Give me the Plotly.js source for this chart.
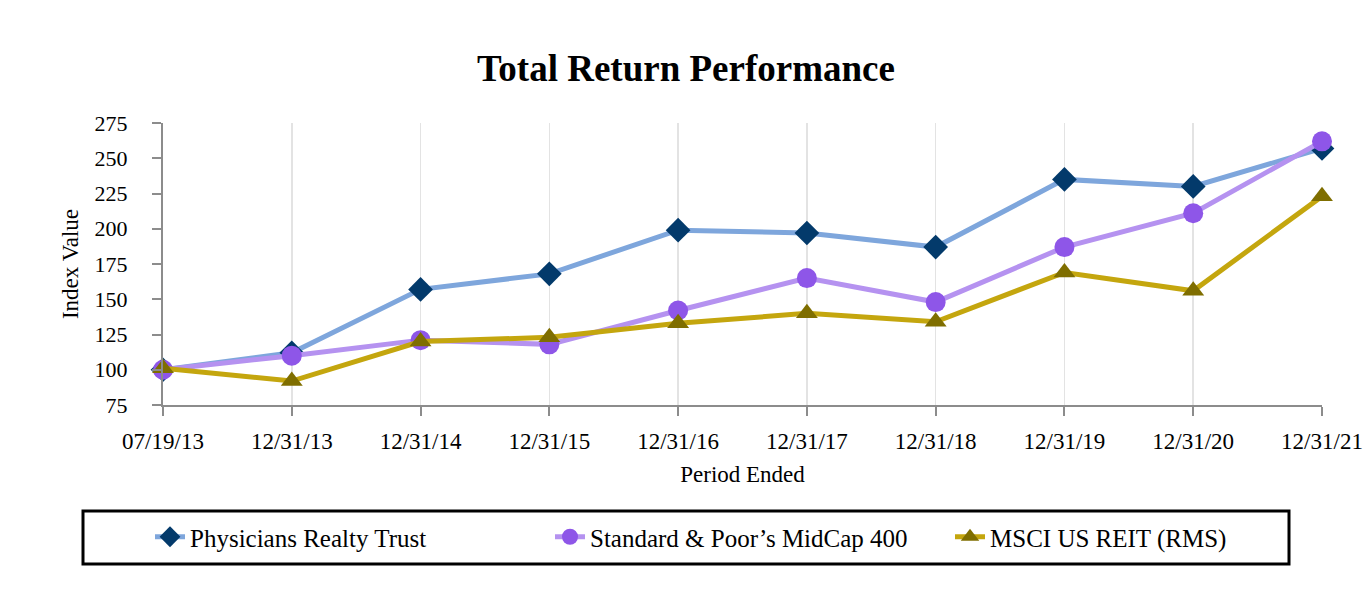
<!DOCTYPE html>
<html>
<head>
<meta charset="utf-8">
<script src="https://cdn.plot.ly/plotly-3.0.1.min.js"></script>
<style>
  html, body { margin: 0; padding: 0; background: #ffffff; }
  #chart { width: 1372px; height: 612px; }
</style>
</head>
<body>
<div id="chart"></div>
<script>
const periods = ['07/19/13', '12/31/13', '12/31/14', '12/31/15', '12/31/16', '12/31/17', '12/31/18', '12/31/19', '12/31/20', '12/31/21'];
const physicians = [100, 112, 157, 168, 199, 197, 187, 235, 230, 257];
const spMidCap = [100, 110, 121, 118, 142, 165, 148, 187, 211, 262];
const msciReit = [101, 92, 120, 123, 133, 140, 134, 169, 156, 223];
const seriesNames = ['Physicians Realty Trust', 'Standard & Poor\u2019s MidCap 400', 'MSCI US REIT (RMS)'];
const yTicks = [75, 100, 125, 150, 175, 200, 225, 250, 275];

const FONT = '"Liberation Serif", "Times New Roman", serif';
const PW = 1159, PH = 282; // plot area size (px) for paper conversions
const px = v => (v - 163) / PW;
const py = v => (405 - v) / PH;

const traces = [
  {
    x: periods, y: physicians, name: seriesNames[0], type: 'scatter', mode: 'lines+markers',
    line: { color: '#7ea6dc', width: 5 },
    marker: { symbol: 'diamond', size: 19, color: '#033a6b' },
    cliponaxis: false
  },
  {
    x: periods, y: spMidCap, name: seriesNames[1], type: 'scatter', mode: 'lines+markers',
    line: { color: '#b592f0', width: 5 },
    marker: { symbol: 'circle', size: 20, color: '#8e56e8' },
    cliponaxis: false
  },
  {
    x: periods, y: msciReit, name: seriesNames[2], type: 'scatter', mode: 'lines+markers',
    line: { color: '#c4a60e', width: 5 },
    marker: { symbol: 'triangle-up', size: 19, color: '#7f6e00' },
    cliponaxis: false
  }
];

const layout = {
  width: 1372, height: 612,
  paper_bgcolor: '#ffffff', plot_bgcolor: '#ffffff',
  margin: { l: 163, r: 50, t: 123, b: 207 },
  font: { family: FONT, color: '#000000', size: 22 },
  title: {
    text: '<b>Total Return Performance</b>',
    font: { family: FONT, size: 37, color: '#000000' },
    x: 0.5, xref: 'container', xanchor: 'center',
    y: 1 - 68 / 612, yref: 'container', yanchor: 'middle'
  },
  xaxis: {
    type: 'category',
    range: [0, periods.length - 1],
    showgrid: true, gridcolor: '#e3e3e3', gridwidth: 1.5,
    showline: true, linecolor: '#8c8c8c', linewidth: 2,
    ticks: 'outside', ticklen: 9, tickwidth: 2, tickcolor: '#8c8c8c',
    tickfont: { family: FONT, size: 23, color: '#000000' },
    ticklabelstandoff: 5,
    zeroline: false,
    title: { text: 'Period Ended', font: { family: FONT, size: 23, color: '#000000' }, standoff: 13 }
  },
  yaxis: {
    range: [75, 275],
    tickvals: yTicks,
    ticktext: yTicks.map(String),
    showgrid: false,
    showline: true, linecolor: '#8c8c8c', linewidth: 2,
    ticks: 'outside', ticklen: 9, tickwidth: 2, tickcolor: '#8c8c8c',
    tickfont: { family: FONT, size: 22, color: '#000000' },
    ticklabelstandoff: 20,
    zeroline: false,
    title: { text: 'Index Value', font: { family: FONT, size: 23, color: '#000000' }, standoff: 10 }
  },
  showlegend: true,
  legend: {
    orientation: 'h',
    x: px(150), xanchor: 'left',
    y: py(514), yanchor: 'top',
    borderwidth: 0, bgcolor: 'rgba(0,0,0,0)',
    font: { family: FONT, size: 25, color: '#000000' },
    entrywidth: 355, entrywidthmode: 'pixels',
    itemsizing: 'trace'
  },
  shapes: [{
    type: 'rect', xref: 'paper', yref: 'paper',
    x0: px(83), x1: px(1289), y0: py(511), y1: py(564),
    line: { color: '#000000', width: 3 }, fillcolor: 'rgba(0,0,0,0)', layer: 'below'
  }]
};

Plotly.newPlot('chart', traces, layout, { displayModeBar: false, staticPlot: true });
</script>
</body>
</html>
